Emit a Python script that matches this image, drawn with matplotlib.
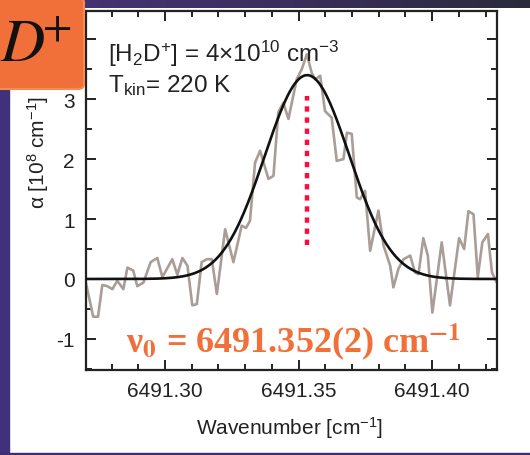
import numpy as np
import matplotlib.pyplot as plt
from matplotlib.patches import FancyBboxPatch, Rectangle
from matplotlib.colors import LinearSegmentedColormap
from matplotlib.ticker import MultipleLocator, FuncFormatter

plt.rcParams['font.family'] = ['Liberation Sans', 'DejaVu Sans']
plt.rcParams['mathtext.fontset'] = 'custom'
plt.rcParams['mathtext.rm'] = 'Liberation Sans'
plt.rcParams['mathtext.it'] = 'Liberation Sans:italic'
plt.rcParams['mathtext.bf'] = 'Liberation Sans:bold'
plt.rcParams['axes.unicode_minus'] = False

wavenumber = [6491.2703, 6491.2731, 6491.2749, 6491.2765, 6491.2784, 6491.2803,
              6491.2821, 6491.2844, 6491.2859, 6491.2881, 6491.2896, 6491.2919,
              6491.2946, 6491.2971, 6491.2990, 6491.3027, 6491.3046, 6491.3065,
              6491.3084, 6491.3102, 6491.3119, 6491.3137, 6491.3156, 6491.3175,
              6491.3194, 6491.3225, 6491.3256, 6491.3287, 6491.3303, 6491.3318,
              6491.3337, 6491.3356, 6491.3387, 6491.3406, 6491.3424, 6491.3443,
              6491.3462, 6491.3493, 6491.3512, 6491.3531, 6491.3549, 6491.3562,
              6491.3581, 6491.3599, 6491.3624, 6491.3643, 6491.3668, 6491.3681,
              6491.3699, 6491.3718, 6491.3730, 6491.3749, 6491.3768, 6491.3799,
              6491.3818, 6491.3843, 6491.3855, 6491.3874, 6491.3893, 6491.3918,
              6491.3936, 6491.3949, 6491.3967, 6491.3984, 6491.4001, 6491.4036,
              6491.4067, 6491.4101, 6491.4120, 6491.4136, 6491.4155, 6491.4171,
              6491.4188, 6491.4209, 6491.4224, 6491.4242]
alpha = [-0.05, -0.63, -0.63, -0.10, -0.12, -0.17,
         -0.03, -0.17, 0.19, 0.14, -0.12, -0.06,
         0.28, 0.35, 0.03, 0.33, 0.07, 0.35,
         0.22, -0.44, -0.42, 0.28, 0.33, 0.33,
         -0.25, 0.83, 0.28, 0.89, 0.85, 0.97,
         1.94, 2.14, 1.67, 1.72, 2.78, 2.94,
         2.67, 3.33, 3.50, 3.75, 3.44, 3.33,
         3.39, 2.80, 2.69, 1.97, 2.00, 2.44,
         2.42, 1.36, 1.33, 1.47, 0.47, 1.14,
         0.56, 0.22, -0.14, 0.17, 0.33, 0.39,
         0.11, 0.08, 0.68, 0.39, -0.56, 0.61,
         -0.44, 0.68, 0.50, 1.13, 1.08, 0.03,
         0.61, 0.75, 0.11, -0.06]

# gaussian fit parameters
nu0 = 6491.3532
peak = 3.40
sigma = 0.0158
marker_y = [0.56, 3.05]

x_range = [6491.2704, 6491.4243]
y_range = [-1.51, 4.47]

W, H = 530, 456
fig = plt.figure(figsize=(W / 100, H / 100), dpi=100)

def fx(px):
    return px / W

def fy(py):
    return 1 - py / H

# slide decorations
bar = fig.add_axes([0, fy(9), 1, 9 / H])
grad = LinearSegmentedColormap.from_list('bar', ['#4b3479', '#3b2f60', '#2b2a3c'])
bar.imshow(np.linspace(0, 1, 256)[None, :], aspect='auto', cmap=grad)
bar.axis('off')
fig.patches.append(Rectangle((0, 0), fx(9), 1, transform=fig.transFigure,
                             color='#41307a', zorder=1))
fig.patches.append(Rectangle((0, 0), 1, 2.5 / H, transform=fig.transFigure,
                             color='#3f2f72', zorder=1))
box = FancyBboxPatch((-0.05, fy(90)), fx(84) + 0.05, 0.2,
                     boxstyle='round,pad=0,rounding_size=0.012',
                     mutation_aspect=H / W, transform=fig.transFigure,
                     facecolor='#f1703a', edgecolor='#f58a52', lw=1.5, zorder=5)
fig.patches.append(box)
fig.text(fx(0), fy(62), r'$D^{\!\!\!+}$', math_fontfamily='stix',
         fontsize=44, ha='left', va='baseline', color='#111', zorder=6)

ax = fig.add_axes([fx(86), fy(370.5), fx(497) - fx(86), fy(12) - fy(370.5)])

xfit = np.linspace(x_range[0], x_range[1], 400)
yfit = peak * np.exp(-(xfit - nu0) ** 2 / (2 * sigma ** 2))

ax.plot(wavenumber, alpha, color='#a99d98', lw=1.9, zorder=2)
ax.plot(xfit, yfit, color='#111111', lw=1.9, zorder=3)
ax.plot([nu0, nu0], marker_y, color='#ff0a3c', lw=3.2, dashes=(1.2, 1.3),
        solid_capstyle='butt', dash_capstyle='butt', zorder=4)

ax.set_xlim(x_range)
ax.set_ylim(y_range)
ax.xaxis.set_major_locator(MultipleLocator(0.05))
ax.xaxis.set_minor_locator(MultipleLocator(0.01))
ax.xaxis.set_major_formatter(FuncFormatter(lambda v, p: '%.2f' % v))
ax.yaxis.set_major_locator(MultipleLocator(1))
ax.yaxis.set_minor_locator(MultipleLocator(0.5))
# the label at 4 sits under the orange box in the slide
ax.yaxis.set_major_formatter(FuncFormatter(lambda v, p: '' if v > 3.5 else '%d' % v))
ax.tick_params(which='both', direction='in', top=True, right=True,
               width=1.4, color='#222', labelcolor='#222', labelsize=15, pad=8)
ax.tick_params(which='major', length=7)
ax.tick_params(which='minor', length=4.3)
for s in ax.spines.values():
    s.set_linewidth(1.6)
    s.set_color('#222')

ax.text(fx(108), fy(62), r'[H$_2$D$^{{+}}$] = 4$\times$10$^{10}$ cm$^{-3}$',
        transform=fig.transFigure, fontsize=17.5, color='#222', va='baseline')
ax.text(fx(108), fy(92), r'T$_{\mathrm{kin}}$= 220 K',
        transform=fig.transFigure, fontsize=17.5, color='#222', va='baseline')
ax.text(fx(126), fy(353), r'ν$_\mathbf{0}$ = 6491.352(2) cm$^\mathbf{-1}$',
        transform=fig.transFigure, family='Liberation Serif', weight='bold',
        math_fontfamily='stix', fontsize=26, color='#f1703a', va='baseline')

fig.text(fx(38), fy(152), r'α [10$^8$ cm$^{-1}$]', rotation=90,
         fontsize=15, color='#222', ha='center', va='center')
fig.text(fx(290), fy(428), r'Wavenumber [cm$^{-1}$]', fontsize=15,
         color='#222', ha='center', va='center')

fig.savefig('out.png', dpi=100, facecolor='white')
